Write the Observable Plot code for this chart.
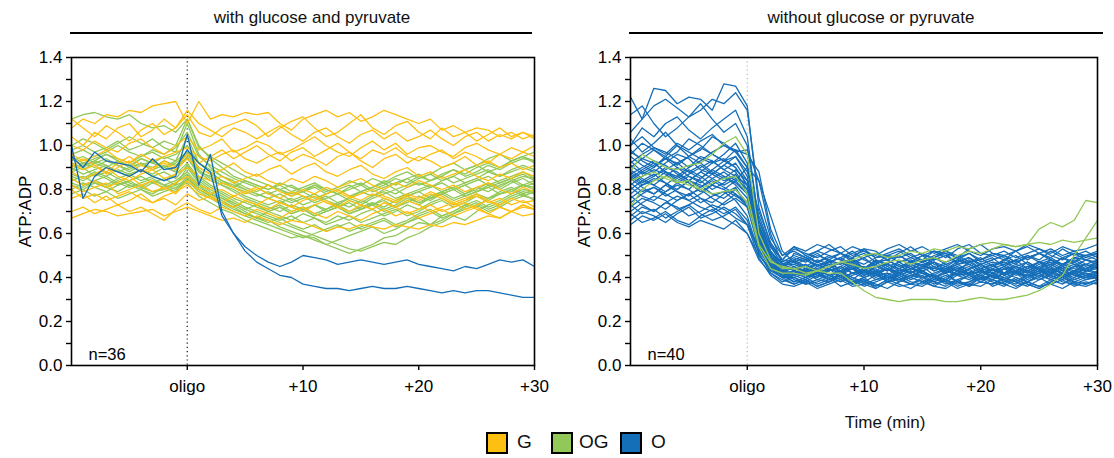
<!DOCTYPE html>
<html><head><meta charset="utf-8">
<script src="https://cdn.jsdelivr.net/npm/d3@7"></script>
<script src="https://cdn.jsdelivr.net/npm/@observablehq/plot@0.6"></script>
<style>
body{margin:0;background:#fff;font-family:"Liberation Sans",Arial,sans-serif;color:#111}
#wrap{position:relative;width:1114px;height:458px;overflow:hidden;background:#fff}
.abs{position:absolute}
.title{font-size:17px;line-height:20px;text-align:center;top:8px;width:400px}
.rule{top:32px;height:2px;background:#000}
.box{top:432px;width:18px;height:18px;border:2px solid #000}
.lg{top:430px;font-size:19px;line-height:24px}
</style></head>
<body><div id="wrap"></div>
<script>
// time in minutes relative to oligomycin addition
const minutes = [-10,-9,-8,-7,-6,-5,-4,-3,-2,-1,0,1,2,3,4,5,6,7,8,9,10,11,12,13,14,15,16,17,18,19,20,21,22,23,24,25,26,27,28,29,30];
const xTicks = [0, 10, 20, 30];
const xTickLabels = ["oligo", "+10", "+20", "+30"];
const yMajor = [0, 0.2, 0.4, 0.6, 0.8, 1.0, 1.2, 1.4];
const yMinor = [0.1, 0.3, 0.5, 0.7, 0.9, 1.1, 1.3];
const groups = ["G", "OG", "O"];
const groupColors = ["#FDC010", "#92C857", "#156EB8"];
const panelTitles = ["with glucose and pyruvate", "without glucose or pyruvate"];
const panelCounts = ["n=36", "n=40"];

// ATP:ADP values in hundredths, one array per cell (41 time points)
// Panel 1: with glucose and pyruvate
const leftG = [
[108,112,110,114,113,116,115,118,119,120,110,120,112,114,113,115,114,115,110,107,112,114,116,113,115,111,113,116,114,112,110,112,107,109,106,108,107,104,106,103,105],
[104,100,106,103,108,110,104,107,112,108,114,106,104,108,110,112,109,104,108,111,113,108,104,106,110,114,108,105,109,111,106,103,108,104,106,102,105,108,104,106,103],
[100,98,102,99,97,101,103,99,96,100,104,98,100,103,97,99,102,100,96,98,101,104,100,97,95,99,102,98,101,96,99,100,97,95,99,101,98,96,99,97,100],
[96,93,95,98,94,92,96,93,95,97,99,95,93,96,98,94,92,95,97,93,96,94,91,95,97,93,90,94,96,92,95,93,90,92,95,91,93,90,92,89,91],
[92,89,91,87,90,93,88,90,92,89,94,90,87,89,92,88,86,89,91,87,90,92,88,86,89,91,87,85,88,90,86,88,85,87,89,86,84,87,85,88,86],
[88,85,87,90,86,84,87,89,85,87,90,86,84,86,83,85,87,84,82,85,83,86,84,81,83,85,82,80,83,81,84,82,80,82,79,81,83,80,78,81,79],
[85,82,84,81,83,86,82,84,80,83,86,82,80,83,81,78,80,82,79,77,80,78,81,79,76,78,80,77,75,78,76,79,77,74,76,78,75,73,76,74,75],
[82,79,81,83,78,80,82,79,81,78,84,80,78,80,77,79,81,78,76,79,77,75,78,80,77,75,78,76,74,77,75,78,76,73,75,77,74,76,73,75,72],
[80,76,78,75,77,79,76,74,77,79,82,78,76,74,77,75,73,76,74,72,75,77,74,72,75,73,71,74,72,75,73,70,72,74,71,73,75,72,70,73,71],
[76,78,74,77,73,75,78,74,76,73,78,75,77,74,72,75,73,71,74,72,70,73,75,72,70,73,71,74,72,69,71,73,70,72,74,71,69,72,70,73,71],
[70,72,69,71,73,70,72,69,66,71,74,71,69,72,70,68,71,69,67,70,72,69,67,70,68,66,69,71,68,70,67,69,71,68,70,72,69,67,70,68,69],
[67,69,71,70,68,69,70,71,68,70,72,70,68,66,67,65,68,66,64,66,65,63,61,63,62,64,63,62,64,63,62,64,63,65,64,66,68,67,70,72,71],
[90,94,91,88,92,95,91,89,93,90,96,92,95,98,94,97,100,96,93,97,99,95,98,101,97,94,98,96,99,95,93,96,98,94,97,95,92,96,94,97,95],
[112,108,104,109,106,102,107,110,105,108,116,110,107,104,108,106,103,106,109,105,102,106,108,104,101,105,107,103,106,102,104,107,103,100,104,106,102,105,103,106,104]
];
const leftOG = [
[112,114,115,113,112,114,110,108,109,106,112,100,94,90,86,84,82,80,82,79,81,83,80,78,80,82,79,81,83,85,82,84,86,83,85,87,89,86,88,90,88],
[98,100,97,99,102,98,100,103,99,97,110,96,90,86,83,80,78,76,78,75,77,74,76,78,75,73,76,78,80,77,79,81,83,80,82,84,86,83,85,87,84],
[95,92,94,96,93,90,94,92,95,93,104,92,88,84,81,79,77,79,76,74,76,78,75,73,76,74,77,79,76,78,80,82,79,81,83,85,82,84,86,88,85],
[92,90,93,91,88,90,92,89,91,88,98,88,84,82,80,77,75,73,75,72,70,73,71,74,72,75,73,76,74,77,79,76,78,80,82,79,81,83,85,82,84],
[90,87,89,91,88,86,89,87,90,88,95,86,82,79,76,74,72,70,72,69,71,68,70,72,69,71,73,70,72,75,73,76,78,75,77,79,81,78,80,82,80],
[88,90,86,88,85,87,89,86,84,87,92,85,81,78,75,72,70,68,66,68,65,67,64,66,68,65,67,69,71,68,70,73,75,72,74,77,75,78,80,77,79],
[86,84,87,85,82,84,86,83,85,82,90,83,79,76,73,70,67,66,63,61,59,58,55,53,51,53,55,58,59,62,65,64,68,70,73,72,76,78,79,82,81],
[85,82,84,86,83,81,83,85,82,84,88,82,78,75,72,69,67,65,67,64,62,64,61,63,65,62,64,66,63,65,68,70,67,69,72,74,71,73,76,78,75],
[84,86,83,81,84,82,80,83,81,83,87,81,78,76,74,71,73,70,72,69,71,73,70,72,74,71,73,75,72,74,77,75,78,80,77,79,82,80,83,85,82],
[82,80,83,81,79,82,80,78,81,79,85,80,77,74,72,75,73,71,73,70,72,69,71,73,70,72,74,71,73,76,74,77,79,76,78,81,79,82,84,81,83],
[80,83,81,79,82,84,81,79,80,82,84,79,76,73,70,68,66,64,62,60,58,60,62,64,61,63,65,67,64,66,69,71,68,70,73,75,72,74,77,79,78],
[96,98,95,97,100,97,95,98,96,99,106,95,91,88,85,83,81,78,80,77,79,76,78,80,77,79,81,83,80,82,85,87,84,86,89,91,88,90,93,95,92],
[94,91,93,96,94,92,95,97,94,96,100,92,89,86,84,81,79,82,80,78,80,82,79,81,84,82,85,83,86,88,85,87,90,92,89,91,94,96,93,95,97],
[78,80,77,79,76,78,80,77,79,81,83,77,74,71,69,66,64,62,60,58,59,57,55,57,59,61,63,60,62,65,67,64,66,69,71,73,70,72,75,77,76],
[93,95,92,90,93,91,94,92,90,93,97,90,87,84,82,80,78,76,74,76,73,75,77,74,76,79,77,80,78,81,83,81,84,86,83,85,88,86,89,91,89],
[89,92,90,93,91,88,91,93,90,92,96,89,85,82,79,76,74,72,70,73,71,68,70,72,69,71,74,72,75,77,74,76,79,81,78,80,83,81,84,86,85],
[87,85,88,86,89,87,84,86,88,85,91,84,80,77,74,71,69,67,65,63,61,59,57,55,53,52,54,56,55,58,60,63,65,68,66,70,73,75,78,80,79],
[91,89,92,94,91,89,92,90,93,91,94,88,86,83,81,84,82,80,83,81,79,82,80,78,81,83,80,82,85,83,86,84,87,89,86,88,91,89,92,94,93],
[83,81,84,82,85,83,81,84,82,80,86,80,77,74,71,69,67,70,68,66,69,67,65,68,66,69,71,68,70,73,71,74,76,73,75,78,76,79,81,78,80],
[100,103,101,98,101,104,101,99,102,100,112,99,95,92,89,86,84,82,80,82,79,81,78,80,82,79,81,84,82,85,87,84,86,89,87,90,92,90,93,95,93]
];
const leftO = [
[100,76,86,90,88,86,89,86,84,86,105,82,96,70,60,54,50,47,45,47,50,49,48,46,47,48,47,46,47,48,46,45,44,43,45,44,46,48,47,48,45],
[95,90,97,93,92,91,88,94,89,90,98,92,88,68,60,52,47,44,41,40,37,36,35,35,34,35,36,35,35,36,35,34,33,34,33,34,34,33,32,31,31]
];
// Panel 2: without glucose or pyruvate
const rightO = [
[122,112,126,125,119,122,121,116,128,127,118,72,55,48,47,49,45,48,51,47,44,48,46,50,47,45,49,51,46,47,49,45,48,50,46,44,48,45,49,46,48],
[106,112,118,121,117,113,116,121,119,124,116,76,58,50,54,50,52,55,51,49,53,52,48,51,54,50,52,49,53,55,51,50,48,52,54,51,49,53,50,52,49],
[114,118,110,104,108,113,119,112,106,110,100,66,54,46,43,46,42,44,47,45,41,43,46,44,42,45,47,43,41,44,46,42,45,43,47,44,41,45,43,46,44],
[100,108,104,110,113,107,103,108,112,116,104,64,50,45,48,45,43,47,46,49,44,46,43,47,48,45,44,47,49,46,43,45,48,46,44,47,45,49,46,44,47],
[103,97,101,106,100,95,98,104,101,97,90,62,51,47,50,48,51,47,49,52,48,46,50,49,51,47,49,52,50,47,48,51,49,46,50,48,52,49,47,50,51],
[96,101,98,94,97,103,100,96,93,98,90,64,52,44,41,43,40,44,42,39,43,41,44,40,42,45,41,39,43,42,40,44,41,43,39,42,44,40,43,41,42],
[98,93,90,95,100,97,94,92,96,101,92,60,48,42,40,38,41,39,42,40,37,39,41,38,40,42,39,41,38,36,40,39,42,40,38,41,39,37,40,42,39],
[92,96,99,97,94,90,93,97,100,98,96,88,62,50,52,49,47,50,48,46,49,51,48,45,47,50,49,46,48,51,47,49,45,48,50,47,46,49,51,48,47],
[90,94,92,88,86,90,95,93,89,92,84,58,46,41,38,40,37,39,41,38,40,36,39,41,38,37,40,39,36,38,41,39,37,40,38,36,39,41,38,37,39],
[95,91,88,92,96,94,89,87,91,95,86,62,50,44,46,44,47,45,43,46,44,48,45,42,46,44,47,45,43,47,44,46,42,45,47,44,46,43,45,48,46],
[87,90,93,91,87,84,88,92,94,90,82,58,47,43,45,42,44,41,43,46,42,44,40,43,45,42,41,44,46,43,41,44,42,45,43,40,44,42,45,43,44],
[93,88,86,89,92,95,92,88,85,89,84,68,54,48,53,51,49,52,54,50,52,49,51,53,50,48,52,51,49,53,55,51,50,52,48,51,53,50,52,49,51],
[84,88,91,94,90,86,83,87,91,88,80,56,45,41,42,40,43,41,39,42,44,40,42,39,41,43,40,42,38,41,43,40,39,42,41,44,40,42,39,41,43],
[89,85,82,86,90,88,91,87,84,86,82,63,51,46,46,48,45,47,49,46,44,47,48,45,47,50,46,44,47,49,45,47,46,48,44,47,49,46,48,45,47],
[82,86,89,87,83,80,85,89,86,82,76,55,44,40,43,40,42,39,41,44,40,42,38,41,43,40,41,39,42,44,40,41,38,42,40,43,41,39,42,40,41],
[88,84,87,83,80,84,88,85,82,85,80,60,49,43,45,43,46,44,42,45,43,47,44,42,44,46,43,45,41,44,46,43,45,42,44,47,43,45,42,44,46],
[86,82,84,88,85,89,86,82,80,84,90,84,68,52,47,44,46,43,45,48,44,42,45,47,44,46,43,45,48,46,43,45,47,44,42,45,47,44,46,43,45],
[80,84,82,79,83,86,84,80,83,87,78,54,44,40,37,39,36,38,40,37,39,35,38,40,37,36,39,38,35,37,40,38,36,39,37,35,38,40,37,36,38],
[85,81,78,82,86,83,79,82,86,83,78,57,47,43,44,42,45,47,43,44,41,45,43,46,42,44,47,43,45,42,44,46,41,43,45,44,42,46,44,43,45],
[78,82,85,83,79,77,81,84,81,78,74,56,46,42,41,44,42,40,43,45,41,43,39,42,44,43,40,42,45,41,43,40,44,42,41,43,45,42,40,43,42],
[83,79,81,77,80,84,82,78,76,80,74,53,45,41,38,40,42,39,41,37,40,42,38,39,41,40,37,39,42,40,38,41,39,37,40,42,39,41,38,40,41],
[76,80,78,82,79,75,78,82,80,77,74,61,50,45,47,45,48,46,44,47,49,45,46,44,47,48,45,43,46,48,44,46,47,45,43,46,48,45,47,44,46],
[81,77,75,79,82,80,76,74,78,81,72,53,44,40,40,42,39,41,43,40,38,41,42,39,41,43,40,38,41,42,39,41,40,42,38,41,43,40,42,39,41],
[74,78,81,78,75,78,80,76,73,76,72,56,46,42,45,43,44,46,42,44,45,43,41,44,46,43,45,42,44,46,43,41,44,45,42,44,46,43,41,44,45],
[72,76,74,71,75,78,74,77,79,75,68,51,42,39,37,39,36,38,40,37,38,36,39,37,35,38,40,37,39,36,38,37,39,36,38,40,37,35,38,37,39],
[77,73,70,74,77,75,72,70,74,78,72,58,49,44,44,46,43,45,47,44,42,45,46,43,45,47,44,46,43,45,42,44,46,43,45,47,44,42,45,46,44],
[70,74,77,75,71,73,76,72,69,72,66,51,43,40,41,39,42,40,38,41,43,39,40,42,39,41,38,40,43,41,39,42,40,38,41,43,40,42,39,41,40],
[68,72,70,74,72,68,70,73,71,67,64,54,46,42,43,41,40,43,45,42,40,42,44,41,43,40,42,44,41,39,42,44,41,43,40,42,45,41,43,42,41],
[73,69,71,67,70,73,69,66,68,71,64,49,41,37,36,38,35,37,39,36,37,35,38,36,37,39,36,35,38,37,36,39,37,35,38,36,37,39,36,38,37],
[66,70,68,65,69,72,67,69,72,69,64,52,45,41,42,44,41,43,45,42,43,41,44,42,40,43,45,42,44,41,43,42,44,41,43,45,42,40,43,44,42],
[69,65,67,70,66,64,68,71,67,64,60,48,42,38,40,37,39,38,41,39,36,38,40,39,37,40,38,36,39,41,38,37,40,38,36,39,41,38,37,39,40],
[64,68,66,69,65,63,66,64,62,66,60,50,44,40,43,41,42,44,40,42,43,41,39,42,44,42,40,43,41,42,44,40,42,43,41,39,42,44,41,40,42],
[100,104,99,96,101,98,102,105,100,97,98,84,60,46,49,47,50,48,46,49,51,47,48,50,47,45,48,50,47,49,46,48,50,47,49,51,48,46,49,48,50],
[97,94,98,95,91,95,99,96,93,95,88,70,56,48,54,52,55,53,51,54,52,50,53,55,52,54,51,53,55,52,50,53,54,52,55,53,51,54,52,53,55],
[91,87,90,94,92,88,85,89,93,90,82,60,48,44,39,37,38,40,36,38,39,37,35,38,40,38,36,39,37,38,40,36,38,39,37,35,38,40,38,37,39],
[85,89,92,88,84,87,90,93,89,86,82,66,52,46,48,50,47,49,51,48,46,49,50,47,49,51,48,50,47,49,46,48,50,47,49,51,48,46,49,50,48],
[87,83,86,90,88,84,81,85,88,84,78,59,47,42,51,49,52,50,48,51,53,49,50,52,49,47,50,52,49,51,48,50,52,49,51,53,50,48,51,50,52]
];
const rightOG = [
[88,96,93,90,89,91,92,96,101,104,96,60,48,44,44,42,43,45,47,48,50,51,49,50,52,51,53,52,54,53,55,56,55,54,55,62,65,63,66,75,74],
[84,86,88,85,83,84,80,78,79,80,74,54,44,42,42,41,43,42,42,38,34,31,30,29,30,30,30,29,29,30,31,30,30,31,32,34,37,41,50,58,66],
[72,80,84,86,84,82,80,83,85,86,78,55,47,45,44,45,43,45,47,46,44,45,47,48,46,48,49,47,50,52,51,53,55,54,55,56,55,57,56,57,58]
];

const bad = [];
function rows(set, name) {
  return set.flatMap((vals, k) => {
    if (vals.length !== minutes.length) bad.push(name + k + ":" + vals.length);
    return vals.map((v, i) => ({t: minutes[i], v: v / 100, id: name + k}));
  });
}
const font = "'Liberation Sans', Arial, sans-serif";

function panel(lineSets, ruleColor, nText, width, mL, mR) {
  return Plot.plot({
    width, height: 400, marginLeft: mL, marginRight: mR, marginTop: 57, marginBottom: 35,
    x: {domain: [-10, 30]},
    y: {domain: [0, 1.4]},
    style: {fontFamily: font, background: "white", color: "black", overflow: "visible"},
    marks: [
      Plot.ruleX([0], {stroke: ruleColor, strokeDasharray: "1.2,3", strokeWidth: 1.3}),
      ...lineSets.map(([data, color]) => Plot.line(data, {x: "t", y: "v", z: "id", stroke: color, strokeWidth: 1.3})),
      Plot.frame({stroke: "black", strokeWidth: 1.6}),
      Plot.axisY({ticks: yMajor, tickFormat: d => d.toFixed(1), tickSize: 5, tickPadding: 4, fontSize: 17, label: null, strokeWidth: 1.4}),
      Plot.axisY({ticks: yMinor, tickFormat: () => "", tickSize: 5, label: null, strokeWidth: 1.4}),
      Plot.axisX({ticks: xTicks, tickFormat: d => xTickLabels[xTicks.indexOf(d)], tickSize: 5, tickPadding: 9, fontSize: 17, label: null, strokeWidth: 1.4}),
      Plot.text([nText], {text: d => d, frameAnchor: "bottom-left", dx: 17, dy: -6, fontSize: 16.5}),
      Plot.text(["ATP:ADP"], {text: d => d, frameAnchor: "left", dx: -46, rotate: -90, textAnchor: "middle", fontSize: 17})
    ]
  });
}

const wrap = document.getElementById("wrap");
const p1 = panel([
  [rows(leftOG, "lOG"), groupColors[1]],
  [rows(leftG, "lG"), groupColors[0]],
  [rows(leftO, "lO"), groupColors[2]]
], "#222", panelCounts[0], 560, 71, 26);
p1.style.position = "absolute"; p1.style.left = "0px"; p1.style.top = "0px";
wrap.appendChild(p1);

const p2 = panel([
  [rows(rightO, "rO"), groupColors[2]],
  [rows(rightOG, "rOG"), groupColors[1]]
], "#bbb", panelCounts[1], 554, 70, 17);
p2.style.position = "absolute"; p2.style.left = "560px"; p2.style.top = "0px";
wrap.appendChild(p2);

function add(cls, css, text) {
  const d = document.createElement("div");
  d.className = "abs " + cls;
  Object.assign(d.style, css);
  if (text) d.textContent = text;
  wrap.appendChild(d);
  return d;
}
add("title", {left: "112px"}, panelTitles[0]);
add("title", {left: "671px"}, panelTitles[1]);
add("rule", {left: "70px", width: "462px"});
add("rule", {left: "629px", width: "474px"});
add("", {left: "785px", width: "200px", top: "412px", fontSize: "17px", lineHeight: "22px", textAlign: "center"}, "Time (min)");
const legendPos = [[486, 517], [551, 579], [620, 651]];
groups.forEach((g, i) => {
  add("box", {left: legendPos[i][0] + "px", background: groupColors[i]});
  add("lg", {left: legendPos[i][1] + "px"}, g);
});
if (bad.length) setTimeout(() => { throw new Error("bad lengths " + bad.join(",")); }, 0);
</script>
</body></html>
